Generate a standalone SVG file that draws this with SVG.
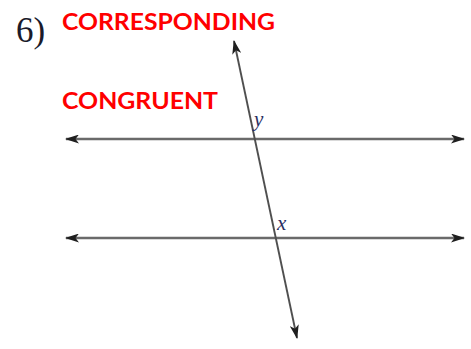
<svg xmlns="http://www.w3.org/2000/svg" width="471" height="349" viewBox="0 0 471 349">
<style>
.ln{stroke:#6a6a6a;stroke-width:2.6;fill:none}
.tr{stroke:#4f4f4f;stroke-width:1.9;fill:none}
.red{font-family:Lato,"Open Sans","Liberation Sans",sans-serif;font-weight:bold;fill:#ff0000;font-size:23px}
.var{font-family:"Liberation Serif","Times New Roman",serif;font-style:italic;fill:#2a2f62;font-size:21px}
</style>
<defs>
<marker id="ah" viewBox="0 0 14 9" refX="13" refY="4.5" markerWidth="14" markerHeight="9" markerUnits="userSpaceOnUse" orient="auto-start-reverse">
<path d="M0,0 L14,4.5 L0,9 L3.5,4.5 Z" fill="#1f1f1f"/>
</marker>
</defs>
<rect width="471" height="349" fill="#ffffff"/>
<text x="16" y="42" font-family="'Liberation Serif','Times New Roman',serif" font-size="35" fill="#1a1a2a">6)</text>
<text class="red" x="62" y="30" textLength="213" lengthAdjust="spacingAndGlyphs">CORRESPONDING</text>
<text class="red" x="62" y="109" textLength="156" lengthAdjust="spacingAndGlyphs">CONGRUENT</text>
<g id="connectors">
<line class="ln" x1="66" y1="139" x2="464" y2="139" marker-start="url(#ah)" marker-end="url(#ah)"/>
<line class="ln" x1="66" y1="238" x2="464" y2="238" marker-start="url(#ah)" marker-end="url(#ah)"/>
<line class="tr" x1="234" y1="41" x2="297" y2="338" marker-start="url(#ah)" marker-end="url(#ah)"/>
</g>
<g id="label-y"><text class="var" x="254" y="126">y</text></g>
<g id="label-x"><text class="var" x="277" y="230">x</text></g>
</svg>
